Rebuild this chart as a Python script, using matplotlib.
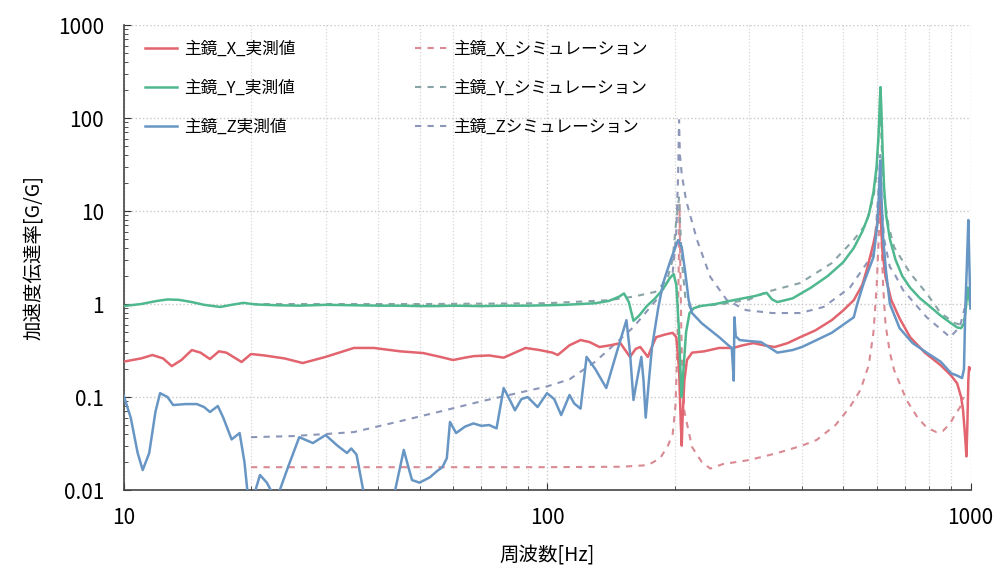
import matplotlib
matplotlib.use("Agg")
import matplotlib.pyplot as plt
from matplotlib.ticker import FixedLocator, FixedFormatter, LogLocator, NullFormatter

plt.rcParams['font.family'] = ['Noto Sans CJK JP', 'DejaVu Sans']

# ---- measured transmissibility, X axis ----
x_meas_f = [10, 11, 11.7, 12.4, 13, 13.7, 14.5, 15.2, 16, 16.8, 17.5, 19, 20, 21.5, 24, 26.5,
            30, 35, 39, 45, 51, 56, 60, 64, 67, 73, 79, 84, 89, 96, 103, 106, 113, 120, 126,
            133, 141, 149, 157, 162, 166, 170, 173, 177, 181, 190, 198, 202, 205, 207, 208,
            209, 211, 214, 220, 235, 255, 275, 290, 307, 325, 345, 370, 396, 430, 470, 500,
            530, 555, 570, 580, 590, 600, 607, 612, 616, 620, 630, 650, 680, 720, 780, 850,
            900, 930, 950, 960, 970, 978, 983, 988, 992, 1000]
x_meas_v = [0.24, 0.26, 0.283, 0.26, 0.215, 0.25, 0.32, 0.3, 0.256, 0.31, 0.3, 0.238, 0.29, 0.28,
            0.26, 0.232, 0.27, 0.337, 0.337, 0.31, 0.297, 0.27, 0.25, 0.265, 0.275, 0.28, 0.265,
            0.3, 0.337, 0.32, 0.3, 0.283, 0.36, 0.41, 0.39, 0.345, 0.36, 0.38, 0.27, 0.33, 0.345,
            0.3, 0.27, 0.35, 0.44, 0.47, 0.49, 0.44, 0.2, 0.05, 0.03, 0.06, 0.15, 0.25, 0.3, 0.31,
            0.337, 0.337, 0.36, 0.38, 0.36, 0.345, 0.38, 0.44, 0.52, 0.67, 0.85, 1.1, 1.6, 2.4,
            3.3, 4.5, 6.5, 10, 14, 6, 3.5, 1.95, 1.1, 0.7, 0.44, 0.3, 0.22, 0.17, 0.14, 0.1,
            0.073, 0.04, 0.023, 0.05, 0.15, 0.21, 0.2]

# ---- measured transmissibility, Y axis ----
y_meas_f = [10, 11, 12, 12.7, 13.5, 14.5, 15.5, 16.9, 18, 19.2, 20.5, 23, 26, 30, 35, 40, 45, 50,
            55, 60, 70, 80, 90, 100, 110, 120, 130, 140, 148, 152, 156, 160, 165, 172, 180, 188,
            195, 199, 202, 205, 207, 208, 210, 213, 217, 222, 230, 250, 270, 290, 310, 330, 340,
            350, 380, 420, 460, 500, 530, 555, 575, 590, 600, 607, 611, 613, 616, 620, 625, 632,
            645, 665, 690, 720, 760, 800, 850, 900, 930, 950, 965, 975, 985, 992, 1000]
y_meas_v = [0.95, 1.0, 1.08, 1.12, 1.11, 1.05, 0.98, 0.93, 0.98, 1.03, 0.99, 0.97, 0.96, 0.98,
            0.97, 0.96, 0.96, 0.95, 0.95, 0.96, 0.95, 0.96, 0.96, 0.97, 0.98, 1.0, 1.02, 1.08,
            1.2, 1.3, 1.05, 0.66, 0.75, 0.95, 1.15, 1.45, 1.9, 2.1, 1.6, 0.5, 0.15, 0.1, 0.2,
            0.5, 0.8, 0.9, 0.95, 1.0, 1.08, 1.15, 1.22, 1.32, 1.12, 1.05, 1.15, 1.5, 2.0, 2.8,
            4.0, 6.0, 9, 16, 30, 70, 160, 215, 120, 45, 18, 9, 5, 3.0, 2.0, 1.5, 1.15, 0.95,
            0.75, 0.62, 0.56, 0.55, 0.62, 0.9, 1.5, 1.2, 0.9]

# ---- measured transmissibility, Z axis ----
z_meas_f = [10, 10.4, 10.8, 11.1, 11.5, 11.9, 12.2, 12.7, 13.1, 14, 14.9, 15.5, 16, 16.7, 17.2,
            18, 18.8, 19.3, 19.6, 20.2, 21, 21.8, 22.4, 23.3, 24.5, 26, 28, 30, 32, 33.7, 34.5,
            35.5, 36.8, 37.5, 43, 43.8, 45.9, 47, 48, 50, 52.9, 55, 56.6, 58, 59, 61, 64, 67,
            70, 73, 76, 79, 82, 84, 87, 90, 95, 100, 104, 108, 113, 116, 120, 124, 130, 138,
            146, 154, 157, 160, 163, 167, 169, 171, 174, 177, 183, 188, 196, 204, 208, 212, 216,
            220, 232, 255, 268, 273, 276, 277, 279, 285, 300, 320, 350, 380, 400, 470, 530, 540,
            560, 590, 602, 608, 612, 616, 622, 632, 645, 680, 730, 788, 850, 900, 930, 955, 965,
            972, 980, 988, 993, 1000]
z_meas_v = [0.105, 0.06, 0.025, 0.0164, 0.025, 0.07, 0.11, 0.1, 0.082, 0.084, 0.084, 0.078,
            0.069, 0.08, 0.06, 0.035, 0.041, 0.02, 0.01, 0.008, 0.0145, 0.012, 0.0095, 0.0095,
            0.018, 0.037, 0.032, 0.039, 0.03, 0.025, 0.028, 0.024, 0.01, 0.008, 0.008, 0.01,
            0.027, 0.018, 0.0128, 0.012, 0.0137, 0.016, 0.0176, 0.022, 0.054, 0.041, 0.048,
            0.052, 0.049, 0.05, 0.046, 0.125, 0.09, 0.072, 0.095, 0.1, 0.078, 0.11, 0.095,
            0.064, 0.105, 0.085, 0.075, 0.27, 0.2, 0.125, 0.3, 0.67, 0.3, 0.093, 0.15, 0.27,
            0.15, 0.06, 0.15, 0.345, 0.9, 1.68, 3.0, 4.87, 4.1, 2.2, 1.1, 0.8, 0.62, 0.44, 0.36,
            0.337, 0.15, 0.72, 0.45, 0.41, 0.4, 0.39, 0.3, 0.32, 0.345, 0.49, 0.72, 1.0, 1.7,
            3.2, 7, 15, 35, 14, 5, 2.2, 1.0, 0.55, 0.38, 0.3, 0.24, 0.18, 0.17, 0.16, 0.2, 0.9,
            2.5, 8, 3, 0.9]

# ---- simulated transmissibility ----
x_sim_f = [20, 50, 100, 150, 173, 185, 193, 198, 201, 203, 204.5, 205.5, 206.5, 208, 211, 220,
           232, 243, 260, 300, 350, 400, 433, 480, 519, 550, 575, 590, 600, 607, 612, 617, 622,
           630, 645, 660, 706, 750, 788, 830, 860, 895, 920, 945, 962]
x_sim_v = [0.0176, 0.0176, 0.0176, 0.0178, 0.0185, 0.022, 0.03, 0.04, 0.08, 0.3, 2, 12, 2, 0.3,
           0.07, 0.029, 0.02, 0.017, 0.019, 0.021, 0.025, 0.03, 0.0345, 0.05, 0.078, 0.12, 0.22,
           0.5, 1.5, 5, 20, 4, 1.5, 0.6, 0.3, 0.195, 0.093, 0.06, 0.047, 0.042, 0.043, 0.052,
           0.065, 0.078, 0.1]

y_sim_f = [20, 50, 100, 140, 160, 180, 192, 198, 202, 205, 208, 212, 218, 230, 260, 300, 330,
           396, 470, 530, 565, 590, 600, 607, 612, 618, 625, 640, 660, 720, 788, 850, 920, 950,
           968]
y_sim_v = [1.0, 1.0, 1.02, 1.1, 1.2, 1.35, 1.8, 3, 8, 14, 3, 1.2, 0.9, 0.95, 1.0, 1.12, 1.35,
           1.68, 2.75, 4.9, 7.1, 14, 25, 70, 150, 40, 15, 7, 4.1, 2.15, 1.3, 0.8, 0.62, 0.6, 0.7]

z_sim_f = [20, 25, 30, 35, 45, 56, 70, 85, 100, 113, 130, 149, 160, 181, 198, 202, 204, 205, 206,
           208, 213, 226, 243, 266, 295, 340, 396, 450, 519, 590, 600, 608, 612, 617, 625, 645,
           660, 693, 788, 895, 944, 968]
z_sim_v = [0.037, 0.038, 0.04, 0.042, 0.055, 0.07, 0.09, 0.11, 0.13, 0.155, 0.24, 0.42, 0.565,
           1.1, 2.15, 6, 25, 95, 40, 25, 13, 4.9, 1.95, 1.1, 0.86, 0.8, 0.8, 0.93, 1.5, 3.5, 8,
           20, 40, 12, 5, 2.5, 2.15, 1.41, 0.72, 0.44, 0.57, 0.9]

labels = ['主鏡_X_実測値', '主鏡_Y_実測値', '主鏡_Z実測値',
          '主鏡_X_シミュレーション', '主鏡_Y_シミュレーション', '主鏡_Zシミュレーション']

x_ticks = [10, 100, 1000]
x_tick_labels = ['10', '100', '1000']
y_ticks = [0.01, 0.1, 1, 10, 100, 1000]
y_tick_labels = ['0.01', '0.1', '1', '10', '100', '1000']

fig = plt.figure(figsize=(10.05, 5.74), dpi=100)
ax = fig.add_axes([0.1229, 0.1463, 0.8428, 0.8101])

c_x, c_y, c_z = '#e2646e', '#4fb88f', '#6896c4'
c_xs, c_ys, c_zs = '#d98a92', '#8aa3a6', '#8c96b8'

ax.plot(x_meas_f, x_meas_v, color=c_x, lw=1.8, label=labels[0], zorder=3)
ax.plot(y_meas_f, y_meas_v, color=c_y, lw=1.8, label=labels[1], zorder=3)
ax.plot(z_meas_f, z_meas_v, color=c_z, lw=1.8, label=labels[2], zorder=3)
ax.plot(x_sim_f, x_sim_v, color=c_xs, lw=1.5, ls=(0, (3, 3)), label=labels[3], zorder=2)
ax.plot(y_sim_f, y_sim_v, color=c_ys, lw=1.5, ls=(0, (3, 3)), label=labels[4], zorder=2)
ax.plot(z_sim_f, z_sim_v, color=c_zs, lw=1.5, ls=(0, (3, 3)), label=labels[5], zorder=2)

ax.set_xscale('log')
ax.set_yscale('log')
ax.set_xlim(10, 1000)
ax.set_ylim(0.01, 1000)

ax.xaxis.set_major_locator(FixedLocator(x_ticks))
ax.xaxis.set_major_formatter(FixedFormatter(x_tick_labels))
ax.xaxis.set_minor_locator(LogLocator(base=10, subs=range(2, 10)))
ax.xaxis.set_minor_formatter(NullFormatter())
ax.yaxis.set_major_locator(FixedLocator(y_ticks))
ax.yaxis.set_major_formatter(FixedFormatter(y_tick_labels))
ax.yaxis.set_minor_locator(LogLocator(base=10, subs=range(2, 10)))
ax.yaxis.set_minor_formatter(NullFormatter())

ax.tick_params(which='both', direction='in', color='#333333')
ax.tick_params(which='major', length=5, labelsize=15, pad=12)
ax.tick_params(which='minor', length=3)
ax.tick_params(axis='y', pad=14)

ax.grid(True, which='major', axis='both', color='#c8c8c8', ls=':', lw=1.0)
ax.grid(True, which='minor', axis='x', color='#d6d6d6', ls=':', lw=0.9)

for side in ('top', 'right'):
    ax.spines[side].set_visible(False)
for side in ('left', 'bottom'):
    ax.spines[side].set_color('#444444')
    ax.spines[side].set_linewidth(1.2)

ax.set_xlabel('周波数[Hz]', fontsize=14, labelpad=12)
ax.set_ylabel('加速度伝達率[G/G]', fontsize=14, labelpad=9)

ax.legend(ncol=2, loc='upper left', bbox_to_anchor=(0.008, 0.998), frameon=False,
          fontsize=12, handlelength=1.9, handletextpad=0.4, labelspacing=1.32,
          columnspacing=7.2)

fig.savefig('out.png', dpi=100, facecolor='white')
